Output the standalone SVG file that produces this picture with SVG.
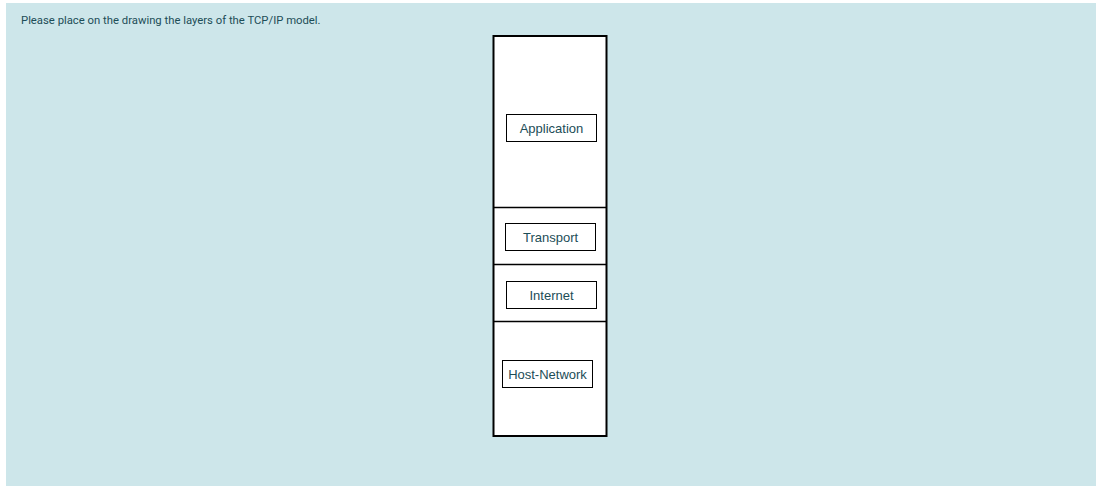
<svg xmlns="http://www.w3.org/2000/svg" width="1096" height="486" viewBox="0 0 1096 486">
<style>
.lbl{fill:#fff;stroke:#000;stroke-width:1}
.lt{font-family:"Liberation Sans",Arial,sans-serif;font-size:13px;fill:#1c4d57;text-anchor:middle}
.hd{font-family:Roboto,"Liberation Sans",sans-serif;font-size:11.3px;fill:#1c4d57}
.div{stroke:#000;stroke-width:1.3}
</style>
<rect width="1096" height="486" fill="#fff"/>
<rect x="6" y="3" width="1090" height="483" fill="#cde6ea"/>
<text class="hd" x="21" y="23.5">Please place on the drawing the layers of the TCP/IP model.</text>
<g id="stack">
<rect x="493.5" y="36" width="113" height="400" fill="#fff" stroke="#000" stroke-width="2"/>
</g>
<g id="connectors">
<line class="div" x1="493.5" y1="207.5" x2="606.5" y2="207.5"/>
<line class="div" x1="493.5" y1="264.5" x2="606.5" y2="264.5"/>
<line class="div" x1="493.5" y1="321.5" x2="606.5" y2="321.5"/>
</g>
<g id="application"><rect class="lbl" x="506.5" y="114.5" width="90" height="27"/><text class="lt" x="551.5" y="133">Application</text></g>
<g id="transport"><rect class="lbl" x="505.5" y="223.5" width="90" height="27"/><text class="lt" x="550.5" y="242">Transport</text></g>
<g id="internet"><rect class="lbl" x="506.5" y="281.5" width="90" height="27"/><text class="lt" x="551.5" y="300">Internet</text></g>
<g id="hostnetwork"><rect class="lbl" x="502.5" y="360.5" width="90" height="27"/><text class="lt" x="547.5" y="379">Host-Network</text></g>
</svg>
